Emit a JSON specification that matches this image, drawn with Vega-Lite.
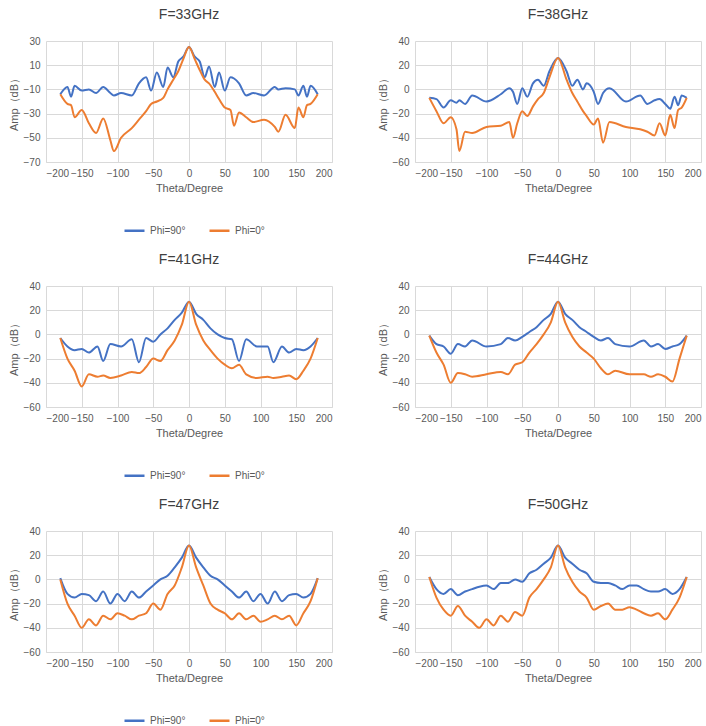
{
  "$schema": "https://vega.github.io/schema/vega-lite/v6.json",
  "padding": {"left": 8, "top": 8, "right": 5, "bottom": 5},
  "config": {
    "view": {"stroke": null},
    "font": "Liberation Sans",
    "title": {"fontSize": 14, "fontWeight": "normal", "color": "#404040", "offset": 14},
    "axis": {"gridColor": "#d9d9d9", "labelColor": "#595959", "titleColor": "#595959", "labelFontSize": 10, "titleFontSize": 11, "titleFontWeight": "normal", "ticks": false, "labelPadding": 6},
    "axisY": {"domain": false},
    "axisX": {"domainColor": "#d9d9d9", "titlePadding": 4},
    "legend": {"orient": "none", "legendX": 77, "legendY": 178, "direction": "horizontal", "title": null, "labelFontSize": 10, "labelColor": "#595959", "symbolType": "stroke", "symbolStrokeWidth": 2.5, "symbolSize": 400, "columnPadding": 18}
  },
  "resolve": {"legend": {"color": "independent"}},
  "datasets": {
    "d": [
      {"f":"F=33GHz","t":-180,"Phi=90°":-14,"Phi=0°":-14},
      {"f":"F=33GHz","t":-170,"Phi=90°":-8,"Phi=0°":-22},
      {"f":"F=33GHz","t":-165,"Phi=90°":-16,"Phi=0°":-23},
      {"f":"F=33GHz","t":-160,"Phi=90°":-7,"Phi=0°":-33},
      {"f":"F=33GHz","t":-150,"Phi=90°":-11,"Phi=0°":-27},
      {"f":"F=33GHz","t":-140,"Phi=90°":-10,"Phi=0°":-38},
      {"f":"F=33GHz","t":-130,"Phi=90°":-13,"Phi=0°":-46},
      {"f":"F=33GHz","t":-120,"Phi=90°":-8,"Phi=0°":-34},
      {"f":"F=33GHz","t":-110,"Phi=90°":-13,"Phi=0°":-52},
      {"f":"F=33GHz","t":-105,"Phi=90°":-15,"Phi=0°":-61},
      {"f":"F=33GHz","t":-95,"Phi=90°":-13,"Phi=0°":-50},
      {"f":"F=33GHz","t":-80,"Phi=90°":-15,"Phi=0°":-42},
      {"f":"F=33GHz","t":-70,"Phi=90°":-5,"Phi=0°":-35},
      {"f":"F=33GHz","t":-60,"Phi=90°":0,"Phi=0°":-28},
      {"f":"F=33GHz","t":-53,"Phi=90°":-11,"Phi=0°":-22},
      {"f":"F=33GHz","t":-45,"Phi=90°":4,"Phi=0°":-20},
      {"f":"F=33GHz","t":-36,"Phi=90°":-8,"Phi=0°":-17},
      {"f":"F=33GHz","t":-30,"Phi=90°":8,"Phi=0°":-10},
      {"f":"F=33GHz","t":-22,"Phi=90°":0,"Phi=0°":-2},
      {"f":"F=33GHz","t":-15,"Phi=90°":13,"Phi=0°":5},
      {"f":"F=33GHz","t":-8,"Phi=90°":17,"Phi=0°":15},
      {"f":"F=33GHz","t":0,"Phi=90°":25,"Phi=0°":25},
      {"f":"F=33GHz","t":8,"Phi=90°":17,"Phi=0°":15},
      {"f":"F=33GHz","t":15,"Phi=90°":13,"Phi=0°":6},
      {"f":"F=33GHz","t":22,"Phi=90°":0,"Phi=0°":-2},
      {"f":"F=33GHz","t":28,"Phi=90°":9,"Phi=0°":-5},
      {"f":"F=33GHz","t":36,"Phi=90°":-8,"Phi=0°":-12},
      {"f":"F=33GHz","t":42,"Phi=90°":4,"Phi=0°":-18},
      {"f":"F=33GHz","t":50,"Phi=90°":-11,"Phi=0°":-25},
      {"f":"F=33GHz","t":58,"Phi=90°":0,"Phi=0°":-27},
      {"f":"F=33GHz","t":63,"Phi=90°":-1,"Phi=0°":-40},
      {"f":"F=33GHz","t":70,"Phi=90°":-5,"Phi=0°":-29},
      {"f":"F=33GHz","t":80,"Phi=90°":-15,"Phi=0°":-33},
      {"f":"F=33GHz","t":90,"Phi=90°":-13,"Phi=0°":-37},
      {"f":"F=33GHz","t":105,"Phi=90°":-15,"Phi=0°":-35},
      {"f":"F=33GHz","t":120,"Phi=90°":-8,"Phi=0°":-41},
      {"f":"F=33GHz","t":125,"Phi=90°":-10,"Phi=0°":-45},
      {"f":"F=33GHz","t":135,"Phi=90°":-9,"Phi=0°":-31},
      {"f":"F=33GHz","t":148,"Phi=90°":-10,"Phi=0°":-42},
      {"f":"F=33GHz","t":153,"Phi=90°":-15,"Phi=0°":-25},
      {"f":"F=33GHz","t":160,"Phi=90°":-7,"Phi=0°":-33},
      {"f":"F=33GHz","t":165,"Phi=90°":-16,"Phi=0°":-23},
      {"f":"F=33GHz","t":170,"Phi=90°":-7,"Phi=0°":-22},
      {"f":"F=33GHz","t":180,"Phi=90°":-14,"Phi=0°":-14},

      {"f":"F=38GHz","t":-180,"Phi=90°":-7,"Phi=0°":-7},
      {"f":"F=38GHz","t":-170,"Phi=90°":-8,"Phi=0°":-18},
      {"f":"F=38GHz","t":-160,"Phi=90°":-15,"Phi=0°":-28},
      {"f":"F=38GHz","t":-150,"Phi=90°":-9,"Phi=0°":-23},
      {"f":"F=38GHz","t":-142,"Phi=90°":-11,"Phi=0°":-33},
      {"f":"F=38GHz","t":-138,"Phi=90°":-9,"Phi=0°":-51},
      {"f":"F=38GHz","t":-130,"Phi=90°":-12,"Phi=0°":-35},
      {"f":"F=38GHz","t":-120,"Phi=90°":-5,"Phi=0°":-36},
      {"f":"F=38GHz","t":-100,"Phi=90°":-10,"Phi=0°":-31},
      {"f":"F=38GHz","t":-80,"Phi=90°":-4,"Phi=0°":-30},
      {"f":"F=38GHz","t":-68,"Phi=90°":1,"Phi=0°":-27},
      {"f":"F=38GHz","t":-63,"Phi=90°":-2,"Phi=0°":-40},
      {"f":"F=38GHz","t":-57,"Phi=90°":-12,"Phi=0°":-28},
      {"f":"F=38GHz","t":-50,"Phi=90°":1,"Phi=0°":-18},
      {"f":"F=38GHz","t":-43,"Phi=90°":-6,"Phi=0°":-22},
      {"f":"F=38GHz","t":-35,"Phi=90°":5,"Phi=0°":-14},
      {"f":"F=38GHz","t":-28,"Phi=90°":8,"Phi=0°":-8},
      {"f":"F=38GHz","t":-20,"Phi=90°":3,"Phi=0°":-3},
      {"f":"F=38GHz","t":-12,"Phi=90°":15,"Phi=0°":10},
      {"f":"F=38GHz","t":0,"Phi=90°":26,"Phi=0°":26},
      {"f":"F=38GHz","t":12,"Phi=90°":15,"Phi=0°":8},
      {"f":"F=38GHz","t":20,"Phi=90°":3,"Phi=0°":-3},
      {"f":"F=38GHz","t":27,"Phi=90°":8,"Phi=0°":-10},
      {"f":"F=38GHz","t":35,"Phi=90°":0,"Phi=0°":-18},
      {"f":"F=38GHz","t":40,"Phi=90°":5,"Phi=0°":-22},
      {"f":"F=38GHz","t":50,"Phi=90°":-2,"Phi=0°":-29},
      {"f":"F=38GHz","t":56,"Phi=90°":-12,"Phi=0°":-24},
      {"f":"F=38GHz","t":63,"Phi=90°":-3,"Phi=0°":-44},
      {"f":"F=38GHz","t":72,"Phi=90°":1,"Phi=0°":-27},
      {"f":"F=38GHz","t":95,"Phi=90°":-10,"Phi=0°":-31},
      {"f":"F=38GHz","t":115,"Phi=90°":-5,"Phi=0°":-33},
      {"f":"F=38GHz","t":125,"Phi=90°":-12,"Phi=0°":-35},
      {"f":"F=38GHz","t":135,"Phi=90°":-9,"Phi=0°":-38},
      {"f":"F=38GHz","t":142,"Phi=90°":-8,"Phi=0°":-28},
      {"f":"F=38GHz","t":150,"Phi=90°":-12,"Phi=0°":-38},
      {"f":"F=38GHz","t":157,"Phi=90°":-16,"Phi=0°":-21},
      {"f":"F=38GHz","t":163,"Phi=90°":-6,"Phi=0°":-32},
      {"f":"F=38GHz","t":168,"Phi=90°":-13,"Phi=0°":-17},
      {"f":"F=38GHz","t":173,"Phi=90°":-5,"Phi=0°":-15},
      {"f":"F=38GHz","t":180,"Phi=90°":-7,"Phi=0°":-7},

      {"f":"F=41GHz","t":-180,"Phi=90°":-3,"Phi=0°":-3},
      {"f":"F=41GHz","t":-170,"Phi=90°":-10,"Phi=0°":-20},
      {"f":"F=41GHz","t":-160,"Phi=90°":-13,"Phi=0°":-30},
      {"f":"F=41GHz","t":-150,"Phi=90°":-12,"Phi=0°":-43},
      {"f":"F=41GHz","t":-140,"Phi=90°":-15,"Phi=0°":-33},
      {"f":"F=41GHz","t":-128,"Phi=90°":-10,"Phi=0°":-35},
      {"f":"F=41GHz","t":-120,"Phi=90°":-22,"Phi=0°":-34},
      {"f":"F=41GHz","t":-110,"Phi=90°":-8,"Phi=0°":-36},
      {"f":"F=41GHz","t":-95,"Phi=90°":-10,"Phi=0°":-34},
      {"f":"F=41GHz","t":-80,"Phi=90°":-4,"Phi=0°":-31},
      {"f":"F=41GHz","t":-70,"Phi=90°":-23,"Phi=0°":-32},
      {"f":"F=41GHz","t":-60,"Phi=90°":-3,"Phi=0°":-27},
      {"f":"F=41GHz","t":-50,"Phi=90°":-6,"Phi=0°":-20},
      {"f":"F=41GHz","t":-40,"Phi=90°":0,"Phi=0°":-22},
      {"f":"F=41GHz","t":-30,"Phi=90°":5,"Phi=0°":-13},
      {"f":"F=41GHz","t":-20,"Phi=90°":12,"Phi=0°":-5},
      {"f":"F=41GHz","t":-10,"Phi=90°":18,"Phi=0°":8},
      {"f":"F=41GHz","t":0,"Phi=90°":27,"Phi=0°":27},
      {"f":"F=41GHz","t":10,"Phi=90°":17,"Phi=0°":8},
      {"f":"F=41GHz","t":20,"Phi=90°":12,"Phi=0°":-5},
      {"f":"F=41GHz","t":30,"Phi=90°":5,"Phi=0°":-13},
      {"f":"F=41GHz","t":40,"Phi=90°":0,"Phi=0°":-20},
      {"f":"F=41GHz","t":50,"Phi=90°":-3,"Phi=0°":-25},
      {"f":"F=41GHz","t":60,"Phi=90°":-4,"Phi=0°":-28},
      {"f":"F=41GHz","t":70,"Phi=90°":-22,"Phi=0°":-25},
      {"f":"F=41GHz","t":80,"Phi=90°":-4,"Phi=0°":-33},
      {"f":"F=41GHz","t":95,"Phi=90°":-10,"Phi=0°":-36},
      {"f":"F=41GHz","t":110,"Phi=90°":-10,"Phi=0°":-35},
      {"f":"F=41GHz","t":118,"Phi=90°":-23,"Phi=0°":-36},
      {"f":"F=41GHz","t":130,"Phi=90°":-10,"Phi=0°":-35},
      {"f":"F=41GHz","t":140,"Phi=90°":-15,"Phi=0°":-34},
      {"f":"F=41GHz","t":150,"Phi=90°":-12,"Phi=0°":-37},
      {"f":"F=41GHz","t":160,"Phi=90°":-13,"Phi=0°":-30},
      {"f":"F=41GHz","t":170,"Phi=90°":-10,"Phi=0°":-20},
      {"f":"F=41GHz","t":180,"Phi=90°":-3,"Phi=0°":-3},

      {"f":"F=44GHz","t":-180,"Phi=90°":-1,"Phi=0°":-1},
      {"f":"F=44GHz","t":-170,"Phi=90°":-8,"Phi=0°":-15},
      {"f":"F=44GHz","t":-160,"Phi=90°":-10,"Phi=0°":-25},
      {"f":"F=44GHz","t":-150,"Phi=90°":-16,"Phi=0°":-40},
      {"f":"F=44GHz","t":-140,"Phi=90°":-8,"Phi=0°":-32},
      {"f":"F=44GHz","t":-130,"Phi=90°":-10,"Phi=0°":-33},
      {"f":"F=44GHz","t":-120,"Phi=90°":-5,"Phi=0°":-35},
      {"f":"F=44GHz","t":-100,"Phi=90°":-10,"Phi=0°":-33},
      {"f":"F=44GHz","t":-80,"Phi=90°":-8,"Phi=0°":-31},
      {"f":"F=44GHz","t":-70,"Phi=90°":-3,"Phi=0°":-33},
      {"f":"F=44GHz","t":-60,"Phi=90°":-5,"Phi=0°":-25},
      {"f":"F=44GHz","t":-50,"Phi=90°":-2,"Phi=0°":-23},
      {"f":"F=44GHz","t":-40,"Phi=90°":2,"Phi=0°":-15},
      {"f":"F=44GHz","t":-30,"Phi=90°":6,"Phi=0°":-8},
      {"f":"F=44GHz","t":-20,"Phi=90°":12,"Phi=0°":0},
      {"f":"F=44GHz","t":-10,"Phi=90°":17,"Phi=0°":10},
      {"f":"F=44GHz","t":0,"Phi=90°":27,"Phi=0°":27},
      {"f":"F=44GHz","t":10,"Phi=90°":17,"Phi=0°":10},
      {"f":"F=44GHz","t":20,"Phi=90°":12,"Phi=0°":-2},
      {"f":"F=44GHz","t":30,"Phi=90°":6,"Phi=0°":-10},
      {"f":"F=44GHz","t":40,"Phi=90°":2,"Phi=0°":-15},
      {"f":"F=44GHz","t":50,"Phi=90°":-2,"Phi=0°":-20},
      {"f":"F=44GHz","t":60,"Phi=90°":-5,"Phi=0°":-28},
      {"f":"F=44GHz","t":70,"Phi=90°":-3,"Phi=0°":-33},
      {"f":"F=44GHz","t":80,"Phi=90°":-8,"Phi=0°":-30},
      {"f":"F=44GHz","t":100,"Phi=90°":-10,"Phi=0°":-33},
      {"f":"F=44GHz","t":120,"Phi=90°":-5,"Phi=0°":-33},
      {"f":"F=44GHz","t":130,"Phi=90°":-10,"Phi=0°":-35},
      {"f":"F=44GHz","t":140,"Phi=90°":-8,"Phi=0°":-33},
      {"f":"F=44GHz","t":150,"Phi=90°":-12,"Phi=0°":-35},
      {"f":"F=44GHz","t":160,"Phi=90°":-10,"Phi=0°":-39},
      {"f":"F=44GHz","t":170,"Phi=90°":-8,"Phi=0°":-20},
      {"f":"F=44GHz","t":180,"Phi=90°":-1,"Phi=0°":-1},

      {"f":"F=47GHz","t":-180,"Phi=90°":1,"Phi=0°":0},
      {"f":"F=47GHz","t":-170,"Phi=90°":-12,"Phi=0°":-20},
      {"f":"F=47GHz","t":-160,"Phi=90°":-15,"Phi=0°":-30},
      {"f":"F=47GHz","t":-150,"Phi=90°":-12,"Phi=0°":-40},
      {"f":"F=47GHz","t":-140,"Phi=90°":-13,"Phi=0°":-33},
      {"f":"F=47GHz","t":-130,"Phi=90°":-18,"Phi=0°":-38},
      {"f":"F=47GHz","t":-120,"Phi=90°":-10,"Phi=0°":-30},
      {"f":"F=47GHz","t":-110,"Phi=90°":-20,"Phi=0°":-33},
      {"f":"F=47GHz","t":-100,"Phi=90°":-12,"Phi=0°":-28},
      {"f":"F=47GHz","t":-90,"Phi=90°":-18,"Phi=0°":-30},
      {"f":"F=47GHz","t":-80,"Phi=90°":-10,"Phi=0°":-33},
      {"f":"F=47GHz","t":-70,"Phi=90°":-15,"Phi=0°":-30},
      {"f":"F=47GHz","t":-60,"Phi=90°":-10,"Phi=0°":-28},
      {"f":"F=47GHz","t":-50,"Phi=90°":-5,"Phi=0°":-20},
      {"f":"F=47GHz","t":-40,"Phi=90°":0,"Phi=0°":-25},
      {"f":"F=47GHz","t":-30,"Phi=90°":3,"Phi=0°":-12},
      {"f":"F=47GHz","t":-20,"Phi=90°":10,"Phi=0°":-5},
      {"f":"F=47GHz","t":-10,"Phi=90°":18,"Phi=0°":10},
      {"f":"F=47GHz","t":0,"Phi=90°":28,"Phi=0°":28},
      {"f":"F=47GHz","t":10,"Phi=90°":18,"Phi=0°":10},
      {"f":"F=47GHz","t":20,"Phi=90°":10,"Phi=0°":-5},
      {"f":"F=47GHz","t":30,"Phi=90°":3,"Phi=0°":-20},
      {"f":"F=47GHz","t":40,"Phi=90°":0,"Phi=0°":-25},
      {"f":"F=47GHz","t":50,"Phi=90°":-5,"Phi=0°":-28},
      {"f":"F=47GHz","t":60,"Phi=90°":-10,"Phi=0°":-33},
      {"f":"F=47GHz","t":70,"Phi=90°":-15,"Phi=0°":-28},
      {"f":"F=47GHz","t":80,"Phi=90°":-10,"Phi=0°":-33},
      {"f":"F=47GHz","t":90,"Phi=90°":-18,"Phi=0°":-30},
      {"f":"F=47GHz","t":100,"Phi=90°":-12,"Phi=0°":-35},
      {"f":"F=47GHz","t":110,"Phi=90°":-20,"Phi=0°":-33},
      {"f":"F=47GHz","t":120,"Phi=90°":-10,"Phi=0°":-30},
      {"f":"F=47GHz","t":130,"Phi=90°":-18,"Phi=0°":-33},
      {"f":"F=47GHz","t":140,"Phi=90°":-13,"Phi=0°":-30},
      {"f":"F=47GHz","t":150,"Phi=90°":-12,"Phi=0°":-38},
      {"f":"F=47GHz","t":160,"Phi=90°":-15,"Phi=0°":-28},
      {"f":"F=47GHz","t":170,"Phi=90°":-12,"Phi=0°":-18},
      {"f":"F=47GHz","t":180,"Phi=90°":1,"Phi=0°":1},

      {"f":"F=50GHz","t":-180,"Phi=90°":2,"Phi=0°":2},
      {"f":"F=50GHz","t":-170,"Phi=90°":-8,"Phi=0°":-15},
      {"f":"F=50GHz","t":-160,"Phi=90°":-12,"Phi=0°":-25},
      {"f":"F=50GHz","t":-150,"Phi=90°":-8,"Phi=0°":-30},
      {"f":"F=50GHz","t":-140,"Phi=90°":-13,"Phi=0°":-22},
      {"f":"F=50GHz","t":-130,"Phi=90°":-10,"Phi=0°":-30},
      {"f":"F=50GHz","t":-120,"Phi=90°":-8,"Phi=0°":-35},
      {"f":"F=50GHz","t":-110,"Phi=90°":-6,"Phi=0°":-40},
      {"f":"F=50GHz","t":-100,"Phi=90°":-5,"Phi=0°":-33},
      {"f":"F=50GHz","t":-90,"Phi=90°":-8,"Phi=0°":-38},
      {"f":"F=50GHz","t":-80,"Phi=90°":-3,"Phi=0°":-30},
      {"f":"F=50GHz","t":-70,"Phi=90°":-3,"Phi=0°":-35},
      {"f":"F=50GHz","t":-60,"Phi=90°":0,"Phi=0°":-27},
      {"f":"F=50GHz","t":-50,"Phi=90°":-2,"Phi=0°":-30},
      {"f":"F=50GHz","t":-40,"Phi=90°":5,"Phi=0°":-15},
      {"f":"F=50GHz","t":-30,"Phi=90°":8,"Phi=0°":-8},
      {"f":"F=50GHz","t":-20,"Phi=90°":13,"Phi=0°":0},
      {"f":"F=50GHz","t":-10,"Phi=90°":18,"Phi=0°":10},
      {"f":"F=50GHz","t":0,"Phi=90°":28,"Phi=0°":28},
      {"f":"F=50GHz","t":10,"Phi=90°":18,"Phi=0°":10},
      {"f":"F=50GHz","t":20,"Phi=90°":13,"Phi=0°":-2},
      {"f":"F=50GHz","t":30,"Phi=90°":8,"Phi=0°":-10},
      {"f":"F=50GHz","t":40,"Phi=90°":5,"Phi=0°":-15},
      {"f":"F=50GHz","t":50,"Phi=90°":-2,"Phi=0°":-25},
      {"f":"F=50GHz","t":60,"Phi=90°":-3,"Phi=0°":-22},
      {"f":"F=50GHz","t":70,"Phi=90°":-3,"Phi=0°":-20},
      {"f":"F=50GHz","t":80,"Phi=90°":-5,"Phi=0°":-25},
      {"f":"F=50GHz","t":90,"Phi=90°":-8,"Phi=0°":-25},
      {"f":"F=50GHz","t":100,"Phi=90°":-5,"Phi=0°":-23},
      {"f":"F=50GHz","t":110,"Phi=90°":-5,"Phi=0°":-25},
      {"f":"F=50GHz","t":120,"Phi=90°":-8,"Phi=0°":-28},
      {"f":"F=50GHz","t":130,"Phi=90°":-10,"Phi=0°":-30},
      {"f":"F=50GHz","t":140,"Phi=90°":-10,"Phi=0°":-28},
      {"f":"F=50GHz","t":150,"Phi=90°":-8,"Phi=0°":-33},
      {"f":"F=50GHz","t":160,"Phi=90°":-12,"Phi=0°":-25},
      {"f":"F=50GHz","t":170,"Phi=90°":-8,"Phi=0°":-15},
      {"f":"F=50GHz","t":180,"Phi=90°":2,"Phi=0°":2}
    ]
  },
  "data": {"name": "d"},
  "vconcat": [
    {"hconcat": [
      {"width": 286, "height": 121, "title": "F=33GHz",
       "transform": [{"filter": "datum.f == 'F=33GHz'"}, {"fold": ["Phi=90°", "Phi=0°"]}],
       "mark": {"type": "line", "interpolate": "monotone", "strokeWidth": 2},
       "encoding": {
         "x": {"field": "t", "type": "quantitative", "scale": {"domain": [-200, 200]}, "axis": {"values": [-200,-150,-100,-50,0,50,100,150,200], "title": "Theta/Degree"}},
         "y": {"field": "value", "type": "quantitative", "scale": {"domain": [-70, 30]}, "axis": {"values": [-70,-50,-30,-10,10,30], "title": "Amp（dB）"}},
         "color": {"field": "key", "type": "nominal", "sort": ["Phi=90°", "Phi=0°"], "scale": {"domain": ["Phi=90°", "Phi=0°"], "range": ["#4472C4", "#ED7D31"]}}
       }},
      {"width": 286, "height": 121, "title": "F=38GHz",
       "transform": [{"filter": "datum.f == 'F=38GHz'"}, {"fold": ["Phi=90°", "Phi=0°"]}],
       "mark": {"type": "line", "interpolate": "monotone", "strokeWidth": 2},
       "encoding": {
         "x": {"field": "t", "type": "quantitative", "scale": {"domain": [-200, 200]}, "axis": {"values": [-200,-150,-100,-50,0,50,100,150,200], "title": "Theta/Degree"}},
         "y": {"field": "value", "type": "quantitative", "scale": {"domain": [-60, 40]}, "axis": {"values": [-60,-40,-20,0,20,40], "title": "Amp（dB）"}},
         "color": {"field": "key", "type": "nominal", "sort": ["Phi=90°", "Phi=0°"], "scale": {"domain": ["Phi=90°", "Phi=0°"], "range": ["#4472C4", "#ED7D31"]}}
       }}
    ], "spacing": 45},
    {"hconcat": [
      {"width": 286, "height": 121, "title": "F=41GHz",
       "transform": [{"filter": "datum.f == 'F=41GHz'"}, {"fold": ["Phi=90°", "Phi=0°"]}],
       "mark": {"type": "line", "interpolate": "monotone", "strokeWidth": 2},
       "encoding": {
         "x": {"field": "t", "type": "quantitative", "scale": {"domain": [-200, 200]}, "axis": {"values": [-200,-150,-100,-50,0,50,100,150,200], "title": "Theta/Degree"}},
         "y": {"field": "value", "type": "quantitative", "scale": {"domain": [-60, 40]}, "axis": {"values": [-60,-40,-20,0,20,40], "title": "Amp（dB）"}},
         "color": {"field": "key", "type": "nominal", "sort": ["Phi=90°", "Phi=0°"], "scale": {"domain": ["Phi=90°", "Phi=0°"], "range": ["#4472C4", "#ED7D31"]}}
       }},
      {"width": 286, "height": 121, "title": "F=44GHz",
       "transform": [{"filter": "datum.f == 'F=44GHz'"}, {"fold": ["Phi=90°", "Phi=0°"]}],
       "mark": {"type": "line", "interpolate": "monotone", "strokeWidth": 2},
       "encoding": {
         "x": {"field": "t", "type": "quantitative", "scale": {"domain": [-200, 200]}, "axis": {"values": [-200,-150,-100,-50,0,50,100,150,200], "title": "Theta/Degree"}},
         "y": {"field": "value", "type": "quantitative", "scale": {"domain": [-60, 40]}, "axis": {"values": [-60,-40,-20,0,20,40], "title": "Amp（dB）"}},
         "color": {"field": "key", "type": "nominal", "sort": ["Phi=90°", "Phi=0°"], "scale": {"domain": ["Phi=90°", "Phi=0°"], "range": ["#4472C4", "#ED7D31"]}}
       }}
    ], "spacing": 45},
    {"hconcat": [
      {"width": 286, "height": 121, "title": "F=47GHz",
       "transform": [{"filter": "datum.f == 'F=47GHz'"}, {"fold": ["Phi=90°", "Phi=0°"]}],
       "mark": {"type": "line", "interpolate": "monotone", "strokeWidth": 2},
       "encoding": {
         "x": {"field": "t", "type": "quantitative", "scale": {"domain": [-200, 200]}, "axis": {"values": [-200,-150,-100,-50,0,50,100,150,200], "title": "Theta/Degree"}},
         "y": {"field": "value", "type": "quantitative", "scale": {"domain": [-60, 40]}, "axis": {"values": [-60,-40,-20,0,20,40], "title": "Amp（dB）"}},
         "color": {"field": "key", "type": "nominal", "sort": ["Phi=90°", "Phi=0°"], "scale": {"domain": ["Phi=90°", "Phi=0°"], "range": ["#4472C4", "#ED7D31"]}}
       }},
      {"width": 286, "height": 121, "title": "F=50GHz",
       "transform": [{"filter": "datum.f == 'F=50GHz'"}, {"fold": ["Phi=90°", "Phi=0°"]}],
       "mark": {"type": "line", "interpolate": "monotone", "strokeWidth": 2},
       "encoding": {
         "x": {"field": "t", "type": "quantitative", "scale": {"domain": [-200, 200]}, "axis": {"values": [-200,-150,-100,-50,0,50,100,150,200], "title": "Theta/Degree"}},
         "y": {"field": "value", "type": "quantitative", "scale": {"domain": [-60, 40]}, "axis": {"values": [-60,-40,-20,0,20,40], "title": "Amp（dB）"}},
         "color": {"field": "key", "type": "nominal", "sort": ["Phi=90°", "Phi=0°"], "scale": {"domain": ["Phi=90°", "Phi=0°"], "range": ["#4472C4", "#ED7D31"]}}
       }}
    ], "spacing": 45}
  ],
  "spacing": 17
}
